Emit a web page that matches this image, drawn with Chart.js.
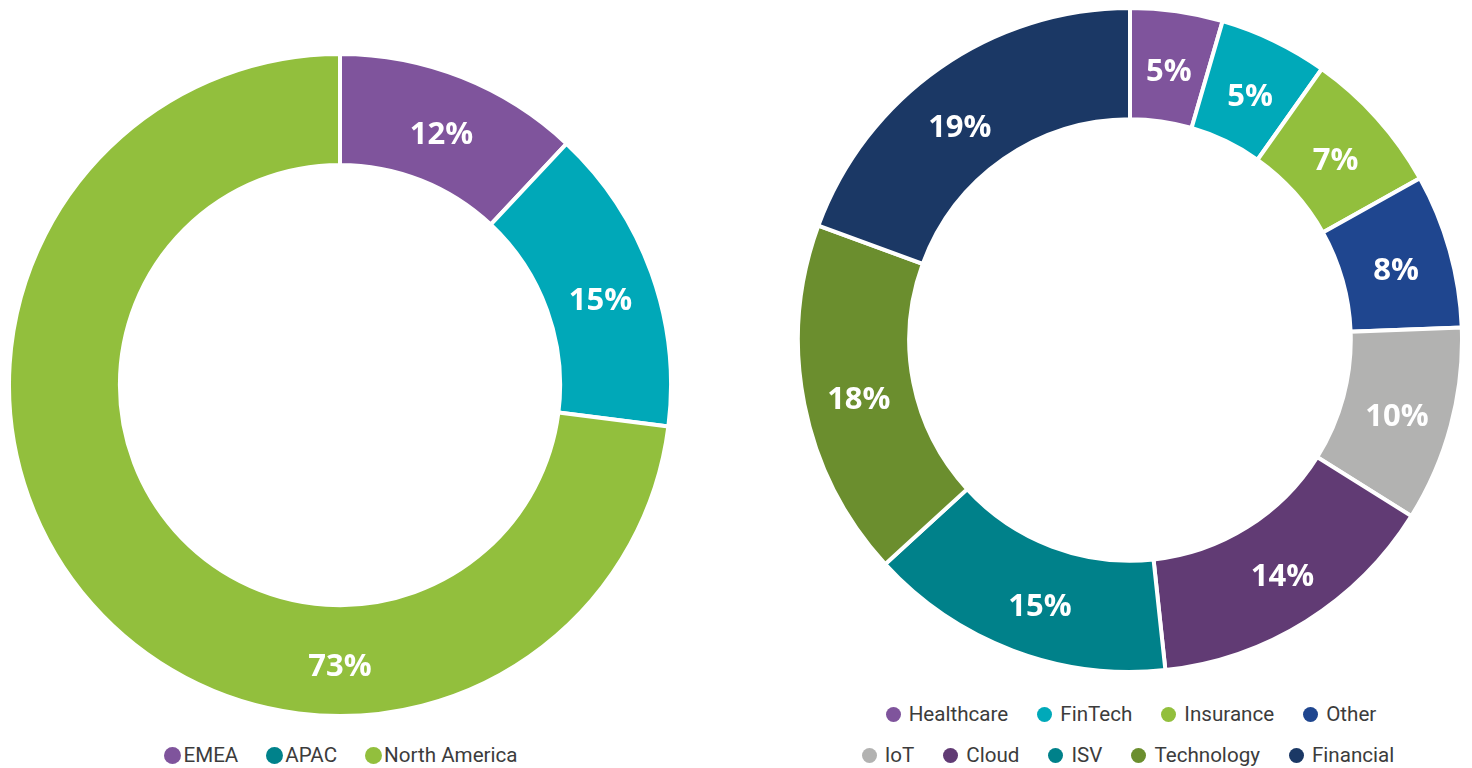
<!DOCTYPE html>
<html><head><meta charset="utf-8">
<script src="https://cdn.jsdelivr.net/npm/chart.js@4.4.1/dist/chart.umd.min.js"></script>
<style>
html,body{margin:0;padding:0;background:#fff;width:1472px;height:768px;overflow:hidden;position:relative;font-family:Roboto,sans-serif}
.cv{position:absolute}
.legend{position:absolute;display:flex;justify-content:center;align-items:center;font-family:Roboto,sans-serif;font-size:20.6px;color:#3c3c3c;white-space:nowrap}
.legend .it{display:flex;align-items:center}
.legend .dot{border-radius:50%;display:inline-block}
</style></head><body>
<div class="cv" id="w1" style="left:7px;top:52px;width:666px;height:666px"><canvas id="c1"></canvas></div>
<div class="cv" id="w2" style="left:796px;top:6px;width:668px;height:668px"><canvas id="c2"></canvas></div>
<div class="legend" id="lg1" style="left:0;width:682px;top:741px;height:28px"></div>
<div class="legend" id="lg2a" style="left:780px;width:702px;top:700px;height:28px"></div>
<div class="legend" id="lg2b" style="left:780px;width:696px;top:741px;height:28px"></div>
<script>
// Left chart: regions
const regionLabels = ['EMEA', 'APAC', 'North America'];
const regionValues = [12, 15, 73];
const regionPctLabels = ['12%', '15%', '73%'];
const regionColors = ['#7f549c', '#00a8b8', '#92bf3d'];
const regionLegendColors = ['#7f549c', '#00828b', '#92bf3d'];

// Right chart: industries
const industryLabels = ['Healthcare', 'FinTech', 'Insurance', 'Other', 'IoT', 'Cloud', 'ISV', 'Technology', 'Financial'];
const industryValues = [4.5, 5.3, 7.1, 7.5, 9.5, 14.4, 14.9, 17.4, 19.4];
const industryPctLabels = ['5%', '5%', '7%', '8%', '10%', '14%', '15%', '18%', '19%'];
const industryColors = ['#7f549c', '#00a9b9', '#92bf3d', '#1f468f', '#b2b2b1', '#613b74', '#00818a', '#6b8e2e', '#1b3865'];

const labelPlugin = {
  id: 'sliceLabels',
  afterDatasetsDraw(chart, args, opts) {
    const ctx = chart.ctx;
    const meta = chart.getDatasetMeta(0);
    const size = 31;
    ctx.save();
    ctx.fillStyle = '#ffffff';
    ctx.font = '700 ' + size + 'px "Open Sans", sans-serif';
    ctx.textAlign = 'center';
    ctx.textBaseline = 'alphabetic';
    meta.data.forEach((arc, i) => {
      let p = arc.tooltipPosition();
      const ang = opts.angles && opts.angles[i];
      if (ang != null) {
        const r = (arc.innerRadius + arc.outerRadius) / 2;
        const a = (ang - 90) * Math.PI / 180;
        p = { x: arc.x + r * Math.cos(a), y: arc.y + r * Math.sin(a) };
      }
      ctx.fillText(opts.labels[i], p.x, p.y + size * 0.357 + 4);
    });
    ctx.restore();
  }
};

function makeChart(id, labels, values, colors, pct, angles) {
  return new Chart(document.getElementById(id), {
    type: 'doughnut',
    data: { labels: labels, datasets: [{ data: values, backgroundColor: colors, borderColor: '#ffffff', borderWidth: 4, borderJoinStyle: 'miter', hoverOffset: 0 }] },
    options: {
      responsive: true, maintainAspectRatio: false, animation: false,
      cutout: '66.5%',
      layout: { padding: 0 },
      plugins: { legend: { display: false }, tooltip: { enabled: false }, sliceLabels: { labels: pct, angles: angles } },
      events: []
    },
    plugins: [labelPlugin]
  });
}
makeChart('c1', regionLabels, regionValues, regionColors, regionPctLabels, [null, 71, 180]);
makeChart('c2', industryLabels, industryValues, industryColors, industryPctLabels, [null, null, null, null, null, 146.5, 199, null, 322]);

function legend(elId, labels, colors, dot, gapDot, gapItem) {
  const el = document.getElementById(elId);
  labels.forEach((l, i) => {
    const it = document.createElement('div'); it.className = 'it';
    if (i > 0) it.style.marginLeft = gapItem + 'px';
    const d = document.createElement('span'); d.className = 'dot';
    d.style.width = dot + 'px'; d.style.height = dot + 'px'; d.style.background = colors[i]; d.style.marginRight = gapDot + 'px';
    const t = document.createElement('span'); t.textContent = l;
    it.appendChild(d); it.appendChild(t); el.appendChild(it);
  });
}
legend('lg1', regionLabels, regionLegendColors, 17, 2, 28);
legend('lg2a', industryLabels.slice(0, 4), industryColors.slice(0, 4), 15, 8, 29);
legend('lg2b', industryLabels.slice(4), industryColors.slice(4), 15, 8, 29);
</script>
</body></html>
